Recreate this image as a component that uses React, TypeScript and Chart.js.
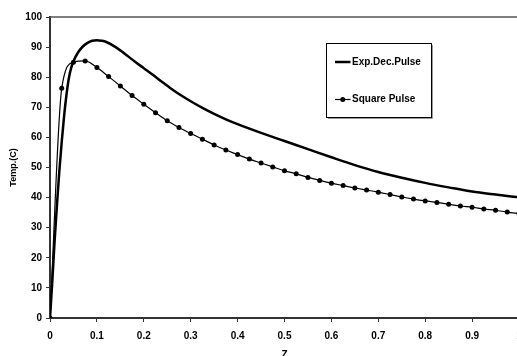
import { useEffect, useRef } from 'react';
import { Chart, registerables } from 'chart.js';

Chart.register(...registerables);

// Exp. decaying pulse (smooth curve, no markers)
const expX = [0, 0.005, 0.01, 0.015, 0.02, 0.025, 0.03, 0.035, 0.04, 0.045, 0.05, 0.06, 0.07, 0.08, 0.09, 0.1, 0.11, 0.12, 0.14, 0.16, 0.18, 0.2, 0.22, 0.24, 0.26, 0.28, 0.3, 0.325, 0.35, 0.375, 0.4, 0.45, 0.5, 0.55, 0.6, 0.65, 0.7, 0.75, 0.8, 0.85, 0.9, 0.95, 1.0];
const expY = [0, 12.5, 26, 38, 49, 58.5, 67, 74, 79.5, 83, 85.3, 88.3, 90.2, 91.4, 92.1, 92.3, 92.1, 91.7, 90.0, 87.7, 85.3, 83.0, 80.7, 78.3, 76.0, 73.9, 72.0, 69.8, 67.8, 66.0, 64.4, 61.5, 58.8, 56.1, 53.4, 50.8, 48.5, 46.6, 44.9, 43.4, 42.0, 41.0, 40.1];

// Square pulse (markers every 0.025)
const squareX = [0, 0.025, 0.05, 0.075, 0.1, 0.125, 0.15, 0.175, 0.2, 0.225, 0.25, 0.275, 0.3, 0.325, 0.35, 0.375, 0.4, 0.425, 0.45, 0.475, 0.5, 0.525, 0.55, 0.575, 0.6, 0.625, 0.65, 0.675, 0.7, 0.725, 0.75, 0.775, 0.8, 0.825, 0.85, 0.875, 0.9, 0.925, 0.95, 0.975, 1.0];
const squareY = [0, 76.3, 85.0, 85.4, 83.2, 80.2, 77.1, 73.9, 71.0, 68.2, 65.5, 63.3, 61.3, 59.4, 57.5, 55.8, 54.3, 52.8, 51.5, 50.2, 48.9, 47.9, 46.7, 45.7, 44.8, 44.0, 43.2, 42.5, 41.8, 41.0, 40.2, 39.5, 38.9, 38.4, 37.8, 37.2, 36.8, 36.2, 35.8, 35.2, 34.7];

const seriesLabels = ['Exp.Dec.Pulse', 'Square Pulse'];
const xTitle = 'Z';
const yTitle = 'Temp.(C)';

const FONT = '"Liberation Sans", Arial, Helvetica, sans-serif';

export default function App() {
  const ref = useRef<HTMLCanvasElement>(null);

  useEffect(() => {
    const canvas = ref.current;
    if (!canvas) return;

    const framePlugin = {
      id: 'frameAndLegend',
      afterDraw(chart: any) {
        const { ctx, chartArea: ca } = chart;
        ctx.save();
        // top border of plot area
        ctx.strokeStyle = '#555';
        ctx.lineWidth = 1.5;
        ctx.beginPath();
        ctx.moveTo(ca.left, ca.top);
        ctx.lineTo(ca.right, ca.top);
        ctx.stroke();

        // legend box
        const bx = Math.round(ca.left + 276);
        const by = Math.round(ca.top + 26);
        const bw = 105;
        const bh = 74;
        ctx.fillStyle = '#fff';
        ctx.fillRect(bx, by, bw, bh);
        ctx.strokeStyle = '#999';
        ctx.lineWidth = 1;
        ctx.beginPath();
        ctx.moveTo(bx + bw + 1.5, by + 2);
        ctx.lineTo(bx + bw + 1.5, by + bh + 1.5);
        ctx.lineTo(bx + 2, by + bh + 1.5);
        ctx.stroke();
        ctx.strokeStyle = '#000';
        ctx.strokeRect(bx + 0.5, by + 0.5, bw, bh);

        const ds = chart.data.datasets;
        const rows = [by + 19, by + 56.5];
        ctx.font = `bold 10px ${FONT}`;
        ctx.textBaseline = 'middle';
        ctx.textAlign = 'left';
        ds.forEach((d: any, i: number) => {
          const y = rows[i];
          ctx.strokeStyle = d.borderColor;
          ctx.lineWidth = d.borderWidth;
          ctx.beginPath();
          ctx.moveTo(bx + 9, y);
          ctx.lineTo(bx + 24.5, y);
          ctx.stroke();
          if (d.pointRadius > 0) {
            ctx.fillStyle = d.pointBackgroundColor;
            ctx.beginPath();
            ctx.arc(bx + 16.75, y, d.pointRadius, 0, Math.PI * 2);
            ctx.fill();
          }
          ctx.fillStyle = '#000';
          ctx.fillText(d.label, bx + 26, y);
        });
        ctx.restore();
      },
    };

    const chart = new Chart(canvas, {
      type: 'line',
      data: {
        datasets: [
          {
            label: seriesLabels[0],
            data: expX.map((x, i) => ({ x, y: expY[i] })),
            borderColor: '#000',
            backgroundColor: '#000',
            borderWidth: 2.5,
            pointRadius: 0,
            cubicInterpolationMode: 'monotone',
            fill: false,
          },
          {
            label: seriesLabels[1],
            data: squareX.map((x, i) => ({ x, y: squareY[i] })),
            borderColor: '#000',
            backgroundColor: '#000',
            pointBackgroundColor: '#000',
            pointBorderColor: '#000',
            borderWidth: 1.2,
            pointRadius: 2.5,
            pointBorderWidth: 0,
            cubicInterpolationMode: 'monotone',
            fill: false,
          },
        ],
      },
      options: {
        responsive: false,
        animation: false,
        devicePixelRatio: 1,
        layout: { padding: { left: 0, top: 17, right: 21, bottom: 0 } },
        plugins: {
          legend: { display: false },
          tooltip: { enabled: false },
        },
        scales: {
          x: {
            type: 'linear',
            min: 0,
            max: 1,
            afterFit: (s: any) => { s.height = 44; },
            ticks: {
              stepSize: 0.1,
              color: '#000',
              padding: 8,
              maxRotation: 0,
              font: { family: FONT, size: 10, weight: 'bold' },
              callback: (v: any) => String(Number(Number(v).toFixed(1))),
            },
            grid: { drawOnChartArea: false, drawTicks: true, tickLength: 4, color: '#333', lineWidth: 1 },
            border: { display: true, color: '#333', width: 2 },
            title: {
              display: true,
              text: xTitle,
              color: '#000',
              font: { family: FONT, size: 10, weight: 'bold' },
              padding: { top: 0, bottom: 1 },
            },
          },
          y: {
            min: 0,
            max: 100,
            afterFit: (s: any) => { s.width = 50; },
            ticks: {
              stepSize: 10,
              color: '#000',
              padding: 4,
              font: { family: FONT, size: 10, weight: 'bold' },
            },
            grid: { drawOnChartArea: false, drawTicks: true, tickLength: 4, color: '#333', lineWidth: 1 },
            border: { display: true, color: '#333', width: 2 },
            title: {
              display: true,
              text: yTitle,
              color: '#000',
              font: { family: FONT, size: 9, weight: 'bold' },
              padding: { top: 8, bottom: 0 },
            },
          },
        },
      },
      plugins: [framePlugin],
    } as any);

    return () => chart.destroy();
  }, []);

  return (
    <div style={{ position: 'absolute', left: 0, top: 0, width: 517, height: 356, overflow: 'hidden', background: '#fff' }}>
      <canvas ref={ref} width={540} height={362} style={{ display: 'block', width: 540, height: 362 }} />
    </div>
  );
}
